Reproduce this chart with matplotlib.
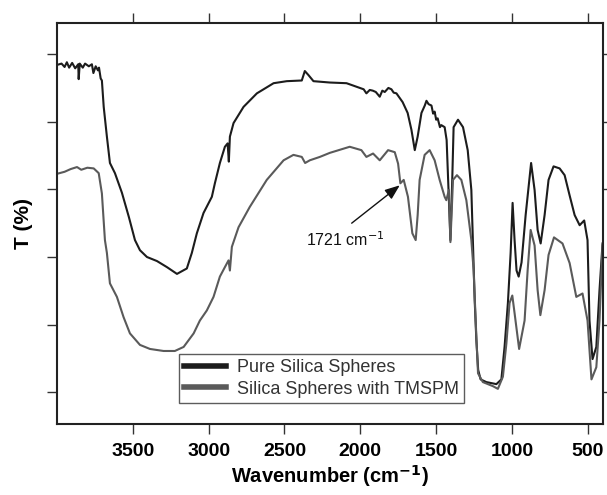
import matplotlib

matplotlib.use("Agg")
import matplotlib.pyplot as plt
import numpy as np

plt.rcParams["font.family"] = ["Liberation Sans", "DejaVu Sans"]

# Pure silica spheres (black trace)
pure_wn = [4000, 3970, 3950, 3935, 3920, 3900, 3880, 3860, 3857, 3850, 3830, 3815,
           3790, 3770, 3760, 3745, 3730, 3723, 3712, 3704, 3692, 3671, 3651, 3618,
           3572, 3526, 3486, 3453, 3407, 3341, 3275, 3209, 3144, 3111, 3078, 3034,
           2979, 2959, 2926, 2893, 2875, 2867, 2860, 2836, 2770, 2682, 2572, 2485,
           2386, 2366, 2342, 2309, 2201, 2091, 2004, 1978, 1960, 1938, 1918, 1898,
           1872, 1855, 1839, 1815, 1795, 1780, 1762, 1721, 1688, 1663, 1641, 1622,
           1597, 1575, 1564, 1550, 1531, 1520, 1510, 1500, 1490, 1475, 1466, 1444,
           1431, 1421, 1411, 1406, 1394, 1385, 1356, 1323, 1292, 1268, 1256, 1246,
           1235, 1223, 1207, 1169, 1103, 1070, 1049, 1027, 1009, 996, 983, 970, 956,
           937, 910, 874, 851, 831, 811, 785, 759, 726, 686, 653, 620, 587, 554, 524,
           502, 489, 469, 444, 423, 403]
pure_t = [88.4, 88.6, 88.1, 88.8, 88.0, 88.7, 87.9, 88.5, 86.3, 88.6, 88.0, 88.6,
          88.2, 88.5, 87.2, 88.2, 87.6, 88.0, 86.4, 86.1, 82.2, 77.8, 73.9, 72.4,
          69.5, 65.9, 62.5, 61.0, 60.0, 59.4, 58.5, 57.5, 58.3, 60.6, 63.5, 66.5,
          68.9, 70.9, 73.9, 76.3, 76.8, 74.1, 77.8, 79.8, 82.2, 84.2, 85.7, 86.0,
          86.1, 87.5, 86.9, 86.0, 85.8, 85.7, 85.0, 84.8, 84.2, 84.7, 84.6, 84.4,
          83.7, 84.6, 84.4, 85.0, 84.8, 84.3, 84.2, 82.9, 81.3, 78.8, 75.8, 77.8,
          81.3, 82.4, 83.1, 82.6, 82.4, 81.2, 81.5, 80.3, 80.5, 79.2, 79.5, 79.2,
          77.3, 71.4, 65.4, 62.5, 71.4, 79.2, 80.3, 79.2, 75.8, 69.9, 61.0, 53.6,
          47.7, 43.3, 41.9, 41.5, 41.2, 41.9, 46.7, 53.2, 60.6, 68.0, 62.5, 58.0, 57.1,
          59.2, 66.2, 73.9, 69.9, 64.0, 62.0, 66.2, 71.4, 73.4, 73.1, 72.1, 69.1, 66.2,
          64.7, 65.4, 62.5, 50.6, 44.9, 46.7, 55.1, 62.0]

# Silica spheres with TMSPM (grey trace)
tmspm_wn = [4000, 3950, 3910, 3868, 3840, 3800, 3758, 3725, 3704, 3684, 3671, 3651,
            3605, 3561, 3519, 3453, 3387, 3297, 3223, 3165, 3099, 3058, 3012, 2968,
            2926, 2893, 2869, 2860, 2847, 2803, 2729, 2617, 2506, 2441, 2386, 2364,
            2333, 2267, 2201, 2070, 1993, 1960, 1916, 1872, 1817, 1773, 1751, 1736,
            1714, 1686, 1657, 1635, 1622, 1609, 1576, 1543, 1510, 1477, 1444, 1433,
            1416, 1406, 1389, 1363, 1334, 1301, 1268, 1253, 1235, 1224, 1192, 1126,
            1093, 1060, 1037, 1016, 998, 983, 953, 917, 897, 877, 851, 831, 813, 785,
            759, 723, 667, 620, 576, 535, 502, 476, 444, 423, 403]
tmspm_t = [72.3, 72.6, 73.0, 73.3, 72.9, 73.2, 73.1, 72.4, 69.4, 62.5, 60.6, 56.1,
           54.1, 51.1, 48.7, 47.0, 46.4, 46.1, 46.1, 46.7, 48.7, 50.6, 52.1, 54.1,
           57.1, 58.5, 59.5, 58.0, 61.5, 64.4, 67.4, 71.4, 74.3, 75.1, 74.8, 73.9,
           74.3, 74.8, 75.4, 76.3, 75.8, 74.8, 75.3, 74.3, 75.8, 75.5, 73.8, 70.9,
           71.4, 68.9, 63.5, 62.5, 66.2, 71.4, 75.1, 75.8, 74.3, 71.4, 68.9, 68.4,
           69.9, 62.2, 71.4, 72.1, 71.4, 68.4, 62.5, 58.0, 48.2, 42.8, 41.5, 40.9,
           40.5, 42.3, 47.2, 53.2, 54.3, 51.7, 46.4, 50.6, 58.0, 64.0, 61.7, 55.1, 51.4, 55.1,
           60.3, 62.9, 62.0, 59.1, 54.1, 54.6, 50.6, 41.9, 43.7, 50.6, 61.7]

x_ticks = [3500, 3000, 2500, 2000, 1500, 1000, 500]
y_ticks = [40, 50, 60, 70, 80, 90]

fig = plt.figure(figsize=(6.07, 4.95), dpi=100)
ax = fig.add_axes([0.0939, 0.1434, 0.8995, 0.8101])

ax.plot(pure_wn, pure_t, color="#1c1c1c", lw=1.5, label="Pure Silica Spheres")
ax.plot(tmspm_wn, tmspm_t, color="#5a5a5a", lw=1.5, label="Silica Spheres with TMSPM")

ax.set_xlim(4000, 400)
ax.set_ylim(35.3, 94.6)
ax.set_xticks(x_ticks)
ax.set_yticks(y_ticks)
ax.tick_params(which="major", direction="out", length=7, width=1, color="#333333",
               top=True, right=True, labelleft=False, pad=7)
for label in ax.get_xticklabels():
    label.set_fontweight("bold")
    label.set_fontsize(14)
for side, spine in ax.spines.items():
    spine.set_linewidth(1.5)
    spine.set_color("#222222")

ax.set_xlabel(r"Wavenumber (cm$^{\mathbf{-1}}$)", fontsize=14.5, fontweight="bold",
              labelpad=2)
ax.set_ylabel("T (%)", fontsize=15, fontweight="bold", labelpad=10)

# 1721 cm-1 shoulder callout
ax.annotate("", xy=(1740, 70.6), xytext=(2057, 65.0),
            arrowprops=dict(arrowstyle="-|>,head_length=0.9,head_width=0.35",
                            color="#111111", lw=1.0, shrinkA=0, shrinkB=0))
ax.text(2096, 62.6, r"1721 cm$^{-1}$", fontsize=11.5, ha="center", va="center",
        color="#111111")

leg = ax.legend(loc="lower left", bbox_to_anchor=(0.2234, 0.0524), borderaxespad=0,
                fontsize=13, frameon=True, fancybox=False, handlelength=2.3,
                handletextpad=0.6, labelspacing=0.25, borderpad=0.3)
leg.get_frame().set_edgecolor("#333333")
leg.get_frame().set_linewidth(1.0)
for line in leg.get_lines():
    line.set_linewidth(4)
for text in leg.get_texts():
    text.set_color("#333333")

fig.savefig("out.png", dpi=100)
